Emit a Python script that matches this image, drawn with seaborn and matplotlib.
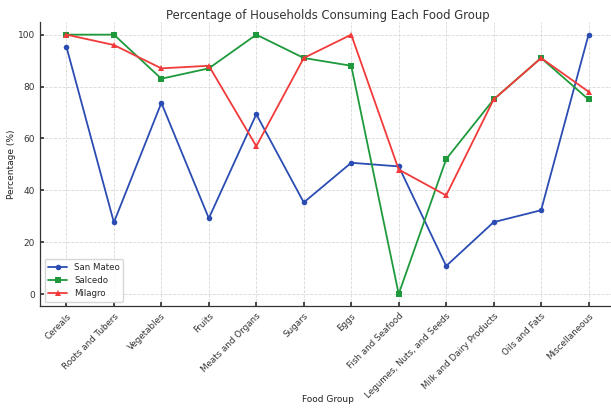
import matplotlib
matplotlib.use("Agg")
import matplotlib.pyplot as plt
import pandas as pd
import seaborn as sns

food_groups = ["Cereals", "Roots and Tubers", "Vegetables", "Fruits", "Meats and Organs",
               "Sugars", "Eggs", "Fish and Seafood", "Legumes, Nuts, and Seeds",
               "Milk and Dairy Products", "Oils and Fats", "Miscellaneous"]
san_mateo = [95.3, 27.6, 73.7, 29.2, 69.3, 35.3, 50.6, 49.2, 10.8, 27.7, 32.3, 100]
salcedo = [100, 100, 83, 87, 100, 91, 88, 0, 52, 75, 91, 75]
milagro = [100, 96, 87, 88, 57, 91, 100, 48, 38, 75, 91, 78]

sns.set_theme(style="whitegrid")
plt.rcParams['font.family'] = ['DejaVu Sans']

df = pd.DataFrame({"Food Group": food_groups, "San Mateo": san_mateo,
                   "Salcedo": salcedo, "Milagro": milagro})
long = df.melt(id_vars="Food Group", var_name="Location", value_name="Percentage")

fig = plt.figure(figsize=(6.11, 4.09), dpi=100)
ax = fig.add_axes([0.066, 0.252, 0.94, 0.695])

colors = {"San Mateo": "#2b4db3", "Salcedo": "#1e9a3c", "Milagro": "#f23a3a"}
markers = {"San Mateo": "o", "Salcedo": "s", "Milagro": "^"}
sns.lineplot(data=long, x="Food Group", y="Percentage", hue="Location", style="Location",
             palette=colors, markers=markers, dashes=False, markersize=4,
             markeredgewidth=0, linewidth=1.3, sort=False, ax=ax)

ax.set_title("Percentage of Households Consuming Each Food Group", fontsize=8.4,
             color="#333333", pad=2)
ax.set_xlabel("Food Group", fontsize=6.5, color="#222222")
ax.xaxis.set_label_coords(0.5, -0.315)
ax.set_ylabel("Percentage (%)", fontsize=6.5, color="#222222", labelpad=1)
ax.set_ylim(-4.6, 105)
ax.set_yticks([0, 20, 40, 60, 80, 100])
plt.setp(ax.get_xticklabels(), rotation=45, ha="right", rotation_mode="anchor")
ax.tick_params(axis="both", labelsize=6.5, direction="in", length=3, colors="#333333",
               bottom=True, left=True, pad=4)
ax.tick_params(axis="x", labelsize=6.3)
ax.grid(True, linestyle="--", linewidth=0.6, color="#d8d8d8")
ax.set_facecolor("white")
for s in ["top", "right"]:
    ax.spines[s].set_visible(False)
for s in ["left", "bottom"]:
    ax.spines[s].set_color("#333333")
    ax.spines[s].set_linewidth(0.9)

leg = ax.legend(loc="lower left", fontsize=6.2, frameon=True, handlelength=2.2)
leg.get_frame().set_edgecolor("#cccccc")

fig.savefig("out.png", dpi=100)
